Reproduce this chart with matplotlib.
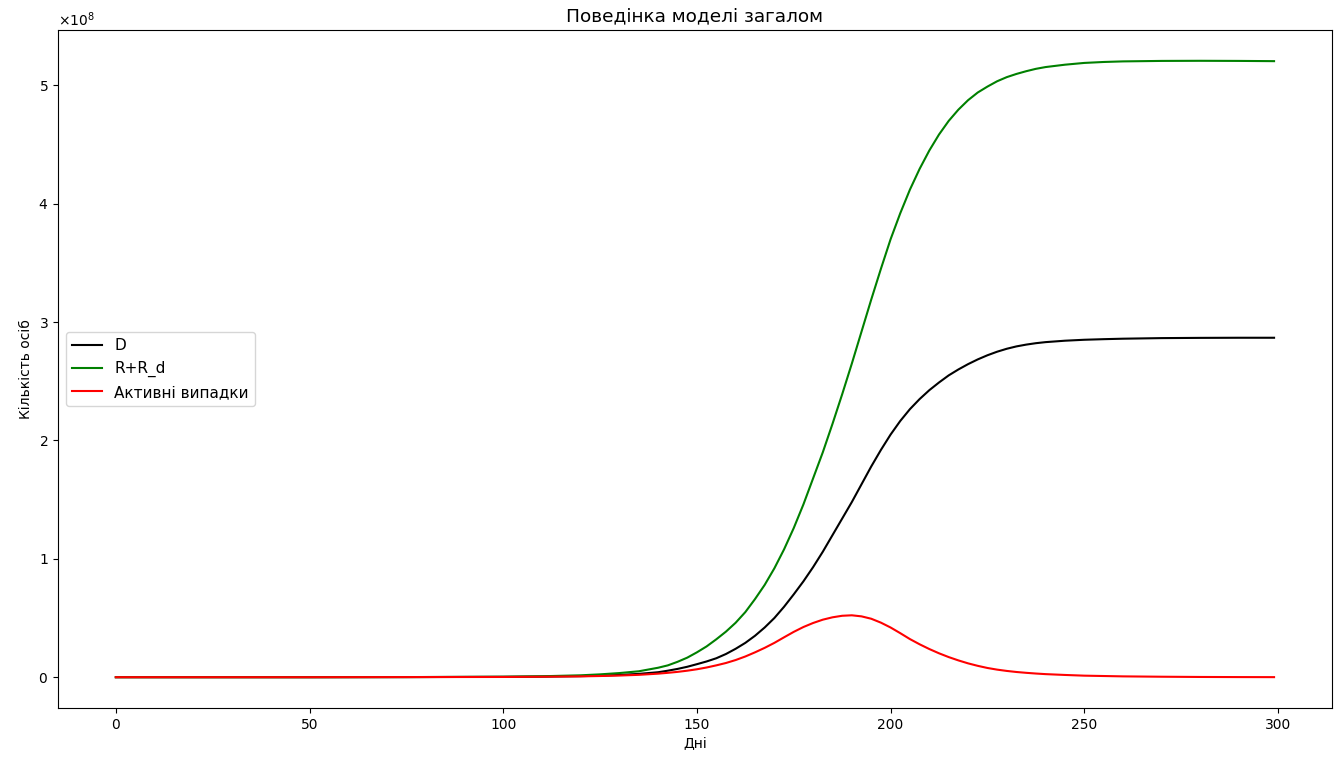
import numpy as np
import matplotlib
matplotlib.use("Agg")
import matplotlib.pyplot as plt

# Days at which the model output is recorded
days = ([0, 25, 50, 75, 100, 110, 120, 125, 130, 135]
        + [140 + 2.5 * i for i in range(41)]
        + [245, 250, 255, 260, 270, 280, 290, 299])

# Deaths (x1e8)
deaths = [0, 0, 0, 0.001, 0.003, 0.005, 0.009, 0.013, 0.019, 0.028,
          0.042, 0.055, 0.07, 0.088, 0.11, 0.133, 0.16, 0.196, 0.24, 0.29,
          0.35, 0.42, 0.50, 0.595, 0.70, 0.81, 0.93, 1.06, 1.20, 1.34,
          1.48, 1.63, 1.78, 1.92, 2.05, 2.165, 2.265, 2.35, 2.425, 2.49,
          2.55, 2.60, 2.645, 2.685, 2.72, 2.75, 2.775, 2.795, 2.81, 2.822,
          2.831,
          2.843, 2.851, 2.856, 2.86, 2.865, 2.867, 2.868, 2.868]

# Recovered, R + R_d (x1e8)
recovered = [0, 0, 0, 0.001, 0.004, 0.008, 0.016, 0.024, 0.035, 0.05,
             0.08, 0.10, 0.13, 0.165, 0.21, 0.26, 0.32, 0.385, 0.46, 0.55,
             0.66, 0.78, 0.92, 1.08, 1.26, 1.46, 1.68, 1.90, 2.14, 2.39,
             2.65, 2.92, 3.19, 3.45, 3.70, 3.92, 4.12, 4.295, 4.45, 4.585,
             4.70, 4.795, 4.875, 4.94, 4.99, 5.035, 5.07, 5.097, 5.12, 5.14,
             5.155,
             5.175, 5.19, 5.198, 5.203, 5.207, 5.208, 5.207, 5.205]

# Active cases (x1e8)
active = [0, 0, 0, 0.001, 0.002, 0.004, 0.007, 0.010, 0.014, 0.020,
          0.030, 0.037, 0.045, 0.055, 0.067, 0.082, 0.10, 0.12, 0.145, 0.175,
          0.21, 0.248, 0.29, 0.337, 0.383, 0.424, 0.458, 0.486, 0.506, 0.519,
          0.523, 0.514, 0.494, 0.461, 0.42, 0.372, 0.322, 0.278, 0.238, 0.202,
          0.17, 0.142, 0.117, 0.096, 0.078, 0.064, 0.053, 0.044, 0.037, 0.031,
          0.026,
          0.019, 0.013, 0.010, 0.007, 0.004, 0.002, 0.001, 0.0005]

scale = 1e8
t = np.array(days)

fig = plt.figure(figsize=(13.38, 7.57), dpi=100)
ax = fig.add_axes([0.0433, 0.0647, 0.9522, 0.8957])

ax.plot(t, np.array(deaths) * scale, color="black", label="D")
ax.plot(t, np.array(recovered) * scale, color="green", label="R+R_d")
ax.plot(t, np.array(active) * scale, color="red", label="Активні випадки")

ax.ticklabel_format(axis="y", style="sci", scilimits=(0, 0), useMathText=True)
ax.set_title("Поведінка моделі загалом", fontsize=13.3)
ax.set_xlabel("Дні")
ax.set_ylabel("Кількість осіб")
ax.legend(loc="center left", fontsize=11)

fig.savefig("out.png", dpi=100)
